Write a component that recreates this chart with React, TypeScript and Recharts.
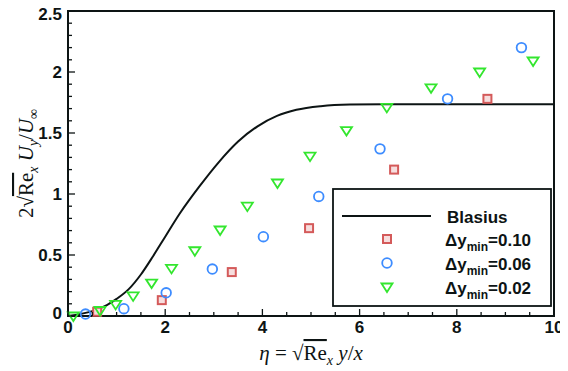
import React from 'react'
import {
  ComposedChart,
  Line,
  Scatter,
  XAxis,
  YAxis,
  ReferenceArea,
  Legend,
} from 'recharts'

// Blasius solution
const blasiusEta = [0, 0.5, 0.8, 1, 1.25, 1.5, 1.75, 2, 2.3, 2.7, 3.1, 3.5, 3.9, 4.3, 4.7, 5.2, 5.8, 6.5, 10]
const blasiusV = [0, 0.04, 0.09, 0.14, 0.22, 0.34, 0.49, 0.65, 0.84, 1.06, 1.26, 1.43, 1.555, 1.64, 1.69, 1.72, 1.733, 1.735, 1.735]

// dy_min = 0.10 (squares)
const eta010 = [0.6, 1.93, 3.37, 4.96, 6.71, 8.63]
const v010 = [0.035, 0.13, 0.36, 0.72, 1.2, 1.78]

// dy_min = 0.06 (circles)
const eta006 = [0.36, 1.15, 2.02, 2.97, 4.02, 5.16, 6.42, 7.81, 9.33]
const v006 = [0.016, 0.06, 0.19, 0.385, 0.65, 0.98, 1.37, 1.78, 2.2]

// dy_min = 0.02 (triangles)
const eta002 = [0.11, 0.66, 0.98, 1.34, 1.72, 2.13, 2.61, 3.13, 3.69, 4.31, 4.98, 5.73, 6.56, 7.47, 8.47, 9.57]
const v002 = [0.0, 0.045, 0.095, 0.165, 0.27, 0.39, 0.535, 0.705, 0.9, 1.09, 1.31, 1.52, 1.71, 1.87, 2.0, 2.09]

const xMajor = [0, 2, 4, 6, 8, 10]
const yMajor = [0, 0.5, 1, 1.5, 2, 2.5]
const yLabels = ['0', '0.5', '1', '1.5', '2', '2.5']

const xTicks = Array.from({ length: 21 }, (_, i) => i * 0.5)
const yTicks = Array.from({ length: 26 }, (_, i) => Math.round(i * 10) / 100)

const toPoints = (xs: number[], ys: number[]) => xs.map((x, i) => ({ x, y: ys[i] }))

const RED = '#d45a5a'
const BLUE = '#3d8cff'
const GREEN = '#33e62e'
const INK = '#0d1414'
const TICK_FONT = 'Liberation Sans, Arial, sans-serif'

const Square = ({ cx, cy }: any) => (
  <rect x={cx - 4} y={cy - 4} width={8} height={8} fill="#f6dede" stroke={RED} strokeWidth={2} />
)
const Circle = ({ cx, cy }: any) => (
  <circle cx={cx} cy={cy} r={4.8} fill="none" stroke={BLUE} strokeWidth={1.8} />
)
const Triangle = ({ cx, cy }: any) => (
  <path
    d={`M${cx - 5.5},${cy - 3.5} L${cx + 5.5},${cy - 3.5} L${cx},${cy + 5} Z`}
    fill="none"
    stroke={GREEN}
    strokeWidth={1.8}
  />
)

const XTick = ({ x, y, payload }: any) => {
  const v = payload.value
  const major = xMajor.includes(v)
  return (
    <g>
      <line x1={x} x2={x} y1={y} y2={y - (major ? 7 : 4)} stroke={INK} strokeWidth={1.3} />
      {major && (
        <text x={x} y={y + 17} textAnchor="middle" fontFamily={TICK_FONT} fontWeight="bold" fontSize={17} fill={INK}>
          {v}
        </text>
      )}
    </g>
  )
}

const YTick = ({ x, y, payload }: any) => {
  const v = payload.value
  const idx = yMajor.indexOf(v)
  // end labels are nudged inward as in the original figure
  const shift = idx === yMajor.length - 1 ? 9 : idx === 0 ? 3 : 6
  return (
    <g>
      <line x1={x} x2={x + (idx >= 0 ? 7 : 4)} y1={y} y2={y} stroke={INK} strokeWidth={1.3} />
      {idx >= 0 && (
        <text x={x - 6} y={y + shift} textAnchor="end" fontFamily={TICK_FONT} fontWeight="bold" fontSize={17} fill={INK}>
          {yLabels[idx]}
        </text>
      )}
    </g>
  )
}

const XLabel = ({ viewBox }: any) => {
  const cx = viewBox.x + viewBox.width / 2
  const cy = viewBox.y + 44
  return (
    <text x={cx} y={cy} textAnchor="middle" fontFamily="Liberation Serif, serif" fontSize={21} fill={INK}>
      <tspan fontStyle="italic">η</tspan>
      <tspan> = √</tspan>
      <tspan style={{ textDecoration: 'overline' }}>Re</tspan>
      <tspan fontStyle="italic" fontSize={14} dy={5}>x</tspan>
      <tspan fontStyle="italic" dy={-5}> y</tspan>
      <tspan>/</tspan>
      <tspan fontStyle="italic">x</tspan>
    </text>
  )
}

const YLabel = ({ viewBox }: any) => {
  const cx = 33
  const cy = viewBox.y + viewBox.height / 2
  return (
    <text
      x={cx}
      y={cy}
      textAnchor="middle"
      transform={`rotate(-90, ${cx}, ${cy})`}
      fontFamily="Liberation Serif, serif"
      fontSize={21}
      fill={INK}
    >
      <tspan>2√</tspan>
      <tspan style={{ textDecoration: 'overline' }}>Re</tspan>
      <tspan fontStyle="italic" fontSize={14} dy={5}>x</tspan>
      <tspan fontStyle="italic" dy={-5}> U</tspan>
      <tspan fontStyle="italic" fontSize={14} dy={5}>y</tspan>
      <tspan dy={-5}>/</tspan>
      <tspan fontStyle="italic">U</tspan>
      <tspan fontSize={14} dy={5}>∞</tspan>
    </text>
  )
}

const legendRows = [
  { label: '0.10', shape: 'square' },
  { label: '0.06', shape: 'circle' },
  { label: '0.02', shape: 'triangle' },
]

const LegendBox = () => (
  <svg width={220} height={119} style={{ display: 'block' }}>
    <rect x={1} y={1} width={218} height={117} fill="#fff" stroke={INK} strokeWidth={1.8} />
    <line x1={10} x2={99} y1={28} y2={28} stroke={INK} strokeWidth={2} />
    <text x={115} y={35} fontFamily={TICK_FONT} fontWeight="bold" fontSize={17} fill={INK}>
      Blasius
    </text>
    {legendRows.map((row, i) => {
      const cy = 51 + i * 24
      return (
        <g key={row.label}>
          {row.shape === 'square' && <Square cx={55} cy={cy} />}
          {row.shape === 'circle' && <Circle cx={55} cy={cy} />}
          {row.shape === 'triangle' && <Triangle cx={55} cy={cy} />}
          <text x={113} y={cy + 7} fontFamily={TICK_FONT} fontWeight="bold" fontSize={17} fill={INK}>
            Δy
            <tspan fontSize={12} dy={5}>min</tspan>
            <tspan dy={-5}>={row.label}</tspan>
          </text>
        </g>
      )
    })}
  </svg>
)

export default function App() {
  return (
    // cancel the default body margin so the chart can use the whole window
    <div style={{ margin: '-8px 0 0 -8px', width: 568, height: 371 }}>
      <ComposedChart
        width={568}
        height={371}
        margin={{ top: 11, right: 14, left: 8, bottom: 0 }}
      >
        <XAxis
          type="number"
          dataKey="x"
          domain={[0, 10]}
          ticks={xTicks}
          interval={0}
          height={55}
          tickSize={0}
          tickMargin={0}
          tickLine={false}
          axisLine={{ stroke: INK, strokeWidth: 2 }}
          tick={<XTick />}
          label={{ content: XLabel }}
        />
        <YAxis
          type="number"
          dataKey="y"
          domain={[0, 2.5]}
          ticks={yTicks}
          interval={0}
          width={60}
          tickSize={0}
          tickMargin={0}
          tickLine={false}
          axisLine={{ stroke: INK, strokeWidth: 2 }}
          tick={<YTick />}
          label={{ content: YLabel }}
        />
        <ReferenceArea x1={0} x2={10} y1={0} y2={2.5} fill="none" stroke={INK} strokeWidth={2} />
        <Line
          data={toPoints(blasiusEta, blasiusV)}
          dataKey="y"
          type="monotone"
          stroke={INK}
          strokeWidth={2}
          dot={false}
          isAnimationActive={false}
        />
        <Scatter data={toPoints(eta010, v010)} dataKey="y" shape={Square} isAnimationActive={false} />
        <Scatter data={toPoints(eta006, v006)} dataKey="y" shape={Circle} isAnimationActive={false} />
        <Scatter data={toPoints(eta002, v002)} dataKey="y" shape={Triangle} isAnimationActive={false} />
        <Legend
          layout="vertical"
          align="center"
          verticalAlign="middle"
          wrapperStyle={{ left: 332, top: 188, width: 220, height: 119 }}
          content={LegendBox}
        />
      </ComposedChart>
    </div>
  )
}
